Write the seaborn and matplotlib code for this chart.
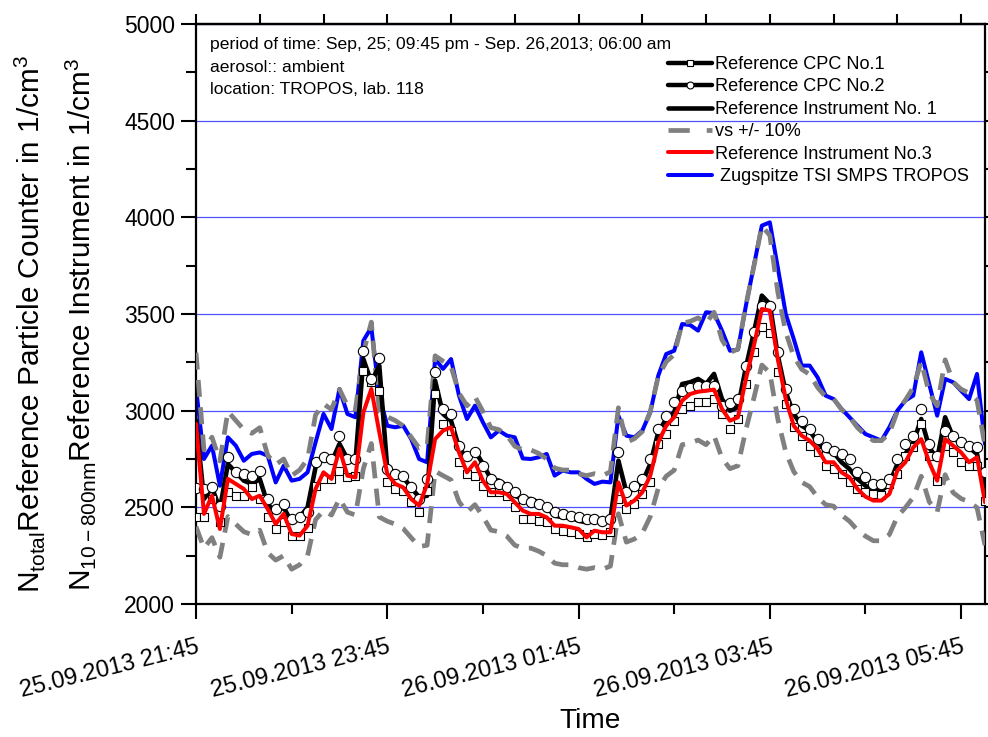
import numpy as np
import pandas as pd
import matplotlib
matplotlib.use("Agg")
import matplotlib.pyplot as plt
import matplotlib.dates as mdates
from matplotlib.ticker import MultipleLocator, FixedLocator, NullFormatter
from matplotlib.lines import Line2D
from matplotlib import font_manager as fm
import seaborn as sns

# ---------------- data (5-min samples, 25.09.2013 21:45 -> 26.09.2013 06:00) ----------------
t_start = "2013-09-25 21:45"
t_end = "2013-09-26 06:00"

ref_cpc1 = [2450, 2448, 2543, 2426, 2578, 2560, 2560, 2603, 2543, 2448, 2388, 2422, 2350, 2350, 2391, 2612, 2647,
            2647, 2690, 2655, 2664, 3207, 3147, 3100, 2629, 2595, 2586, 2526, 2474, 2586, 3086, 2931, 2897, 2733,
            2672, 2664, 2612, 2581, 2578, 2560, 2500, 2440, 2440, 2431, 2422, 2388, 2379, 2371, 2362, 2345, 2362,
            2357, 2371, 2543, 2491, 2517, 2569, 2629, 2828, 2879, 2948, 3009, 3022, 3043, 3043, 3060, 2983, 2905,
            2957, 3138, 3302, 3431, 3400, 3198, 3035, 2914, 2871, 2819, 2784, 2716, 2698, 2672, 2629, 2595,
            2581, 2569, 2564, 2621, 2672, 2767, 2810, 2931, 2767, 2638, 2819, 2784, 2733, 2716, 2716, 2535]

ref_cpc2 = [2600, 2595, 2603, 2509, 2759, 2681, 2672, 2664, 2690, 2543, 2491, 2517, 2440, 2448, 2474, 2733, 2759,
            2750, 2871, 2750, 2750, 3310, 3164, 3271, 2698, 2672, 2664, 2603, 2543, 2647, 3198, 3009, 2983, 2819,
            2767, 2785, 2716, 2647, 2621, 2603, 2578, 2543, 2526, 2517, 2500, 2474, 2466, 2457, 2448, 2440, 2440,
            2431, 2440, 2784, 2578, 2612, 2647, 2750, 2905, 2974, 3043, 3103, 3116, 3129, 3129, 3129, 3026, 3040,
            3060, 3233, 3405, 3543, 3543, 3302, 3112, 3009, 2948, 2905, 2853, 2810, 2793, 2776, 2750, 2681,
            2655, 2621, 2621, 2647, 2750, 2828, 2871, 3009, 2828, 2767, 2897, 2871, 2836, 2819, 2810, 2681]

ref_instr1 = [2950, 2543, 2603, 2491, 2724, 2681, 2638, 2621, 2647, 2517, 2474, 2500, 2422, 2448, 2500, 2707, 2759,
              2733, 2828, 2750, 2733, 3267, 3147, 3233, 2698, 2681, 2655, 2603, 2552, 2560, 3155, 2983, 2948, 2810,
              2750, 2793, 2724, 2647, 2638, 2612, 2560, 2543, 2543, 2526, 2500, 2457, 2448, 2448, 2431, 2422, 2431,
              2422, 2440, 2741, 2578, 2595, 2629, 2724, 2888, 2957, 2991, 3138, 3147, 3164, 3138, 3190, 3060, 3000,
              3017, 3224, 3405, 3595, 3552, 3285, 3095, 2983, 2922, 2897, 2836, 2793, 2784, 2733, 2698, 2647,
              2612, 2586, 2586, 2621, 2724, 2776, 2836, 2957, 2810, 2750, 2966, 2862, 2828, 2810, 2776, 2560]

band_upper = [3300, 2797, 2863, 2740, 2996, 2949, 2902, 2883, 2912, 2769, 2721, 2750, 2664, 2693, 2750, 2978, 3035,
              3006, 3111, 3025, 3006, 3300, 3458, 2994, 2968, 2949, 2921, 2863, 2807, 2816, 3284, 3256, 3229, 3091,
              3025, 3072, 2996, 2912, 2902, 2873, 2816, 2797, 2797, 2779, 2750, 2703, 2693, 2693, 2674, 2664, 2674,
              2664, 2684, 3015, 2836, 2855, 2892, 2996, 3177, 3253, 3290, 3452, 3462, 3480, 3452, 3509, 3366, 3300,
              3319, 3546, 3746, 3955, 3907, 3614, 3405, 3281, 3214, 3187, 3120, 3072, 3062, 3006, 2968, 2912,
              2873, 2845, 2845, 2883, 2996, 3054, 3120, 3253, 3091, 3025, 3263, 3148, 3111, 3091, 3054, 2816]

band_lower = [2400, 2289, 2343, 2242, 2452, 2413, 2374, 2359, 2382, 2265, 2227, 2250, 2180, 2203, 2250, 2436, 2483,
              2460, 2545, 2475, 2460, 2700, 2830, 2450, 2428, 2413, 2390, 2343, 2297, 2304, 2687, 2664, 2642, 2529,
              2475, 2514, 2452, 2382, 2374, 2351, 2304, 2289, 2289, 2273, 2250, 2211, 2203, 2203, 2188, 2180, 2188,
              2180, 2196, 2467, 2320, 2336, 2366, 2452, 2599, 2661, 2692, 2824, 2832, 2848, 2824, 2871, 2754, 2700,
              2715, 2902, 3065, 3236, 3197, 2957, 2786, 2685, 2630, 2607, 2552, 2514, 2506, 2460, 2428, 2382,
              2351, 2327, 2327, 2359, 2452, 2498, 2552, 2661, 2529, 2475, 2669, 2576, 2545, 2529, 2498, 2304]

ref_instr3 = [2931, 2466, 2560, 2388, 2647, 2621, 2595, 2543, 2560, 2491, 2414, 2466, 2362, 2354, 2405, 2595, 2681,
              2647, 2802, 2664, 2655, 2991, 3112, 2888, 2672, 2621, 2603, 2543, 2509, 2620, 2853, 2897, 2914, 2784,
              2681, 2733, 2638, 2578, 2578, 2569, 2526, 2483, 2466, 2466, 2448, 2405, 2405, 2397, 2388, 2345, 2379,
              2371, 2371, 2629, 2509, 2535, 2578, 2664, 2836, 2922, 2966, 3052, 3086, 3098, 3103, 3109, 3009, 2948,
              2966, 3164, 3336, 3526, 3517, 3267, 3060, 2922, 2871, 2845, 2802, 2733, 2733, 2681, 2655, 2595,
              2555, 2535, 2535, 2569, 2690, 2733, 2810, 2853, 2733, 2638, 2853, 2819, 2784, 2733, 2759, 2526]

zugspitze = [3121, 2750, 2819, 2612, 2862, 2819, 2741, 2776, 2784, 2767, 2629, 2715, 2638, 2647, 2681, 2836, 2983,
             2905, 3112, 2983, 2966, 3362, 3431, 3078, 2922, 2914, 2922, 2853, 2750, 2733, 3267, 3216, 3267, 3078,
             2957, 3026, 2940, 2862, 2897, 2871, 2862, 2753, 2750, 2759, 2776, 2664, 2690, 2681, 2681, 2647, 2621,
             2633, 2629, 2974, 2871, 2862, 2897, 2991, 3181, 3293, 3310, 3448, 3443, 3414, 3509, 3505, 3414, 3310,
             3316, 3543, 3750, 3957, 3974, 3741, 3500, 3371, 3233, 3233, 3172, 3078, 3060, 3009, 2966, 2922,
             2879, 2862, 2845, 2914, 3000, 3052, 3078, 3302, 3138, 2974, 3164, 3147, 3103, 3060, 3190, 2828]

series_labels = ["Reference CPC No.1", "Reference CPC No.2", "Reference Instrument No. 1",
                 "vs +/- 10%", "Reference Instrument No.3", " Zugspitze TSI SMPS TROPOS"]
xtick_labels = ["25.09.2013 21:45", "25.09.2013 23:45", "26.09.2013 01:45",
                "26.09.2013 03:45", "26.09.2013 05:45"]
info_lines = ["period of time: Sep, 25; 09:45 pm - Sep. 26,2013; 06:00 am",
              "aerosol:: ambient",
              "location: TROPOS, lab. 118"]
ylabel_1 = r"N$_{\mathregular{total}}$Reference Particle Counter in 1/cm$^{\mathregular{3}}$"
ylabel_2 = r"N$_{\mathregular{10-800nm}}$Reference Instrument in 1/cm$^{\mathregular{3}}$"
xlabel = "Time"

times = pd.date_range(t_start, periods=len(ref_instr1), freq="5min")
df = pd.DataFrame({"time": times, "cpc1": ref_cpc1, "cpc2": ref_cpc2, "ref1": ref_instr1,
                   "upper": band_upper, "lower": band_lower, "ref3": ref_instr3, "zug": zugspitze})

# ---------------- style ----------------
sns.set_style("ticks")
avail = {f.name for f in fm.fontManager.ttflist}
if "Liberation Sans Narrow" in avail:
    NARROW, K = "Liberation Sans Narrow", 1.0
else:
    NARROW, K = "Liberation Sans", 0.84
plt.rcParams["font.family"] = ["Liberation Sans", "DejaVu Sans"]
plt.rcParams["mathtext.fontset"] = "dejavusans"
for key in ["text.color", "axes.labelcolor", "xtick.color", "ytick.color", "axes.edgecolor"]:
    plt.rcParams[key] = "black"

W, H = 988, 737
fig = plt.figure(figsize=(W / 100, H / 100), dpi=100)
ax = fig.add_axes([196 / W, 1 - 604 / H, (985 - 196) / W, (604 - 24) / H])

BLUE = "#0000ff"
RED = "#ff0000"
GRAY = "#808080"
DASH = (0, (3.6, 2.2))

sns.lineplot(data=df, x="time", y="zug", color=BLUE, lw=2.9, ax=ax, zorder=2, estimator=None)
sns.lineplot(data=df, x="time", y="upper", color=GRAY, lw=3.4, ax=ax, zorder=3, estimator=None, linestyle=DASH)
sns.lineplot(data=df, x="time", y="lower", color=GRAY, lw=3.4, ax=ax, zorder=3, estimator=None, linestyle=DASH)
sns.lineplot(data=df, x="time", y="ref1", color="black", lw=3.3, ax=ax, zorder=4, estimator=None)
sns.scatterplot(data=df, x="time", y="cpc1", marker="s", s=38, color="white", edgecolor="black",
                linewidth=0.8, ax=ax, zorder=5)
sns.scatterplot(data=df, x="time", y="cpc2", marker="o", s=55, color="white", edgecolor="black",
                linewidth=0.8, ax=ax, zorder=5)
sns.lineplot(data=df, x="time", y="ref3", color=RED, lw=2.9, ax=ax, zorder=6, estimator=None)

ax.set_xlim(pd.Timestamp(t_start), pd.Timestamp(t_end))
ax.set_ylim(2000, 5000)

# grid
ax.yaxis.grid(True, color="#5050ff", lw=0.9)
ax.xaxis.grid(False)
ax.set_axisbelow(True)

# ticks
xt = pd.to_datetime(xtick_labels, format="%d.%m.%Y %H:%M")
ax.set_xticks(mdates.date2num(xt))
ax.set_xticklabels(xtick_labels, rotation=14, ha="right", va="top", rotation_mode="anchor",
                   fontfamily=NARROW, fontsize=20.3 * K, color="black")
ax.xaxis.set_minor_locator(FixedLocator(mdates.date2num(pd.date_range(t_start, "2013-09-26 05:45", freq="1h"))))
ax.yaxis.set_major_locator(MultipleLocator(500))
ax.yaxis.set_minor_locator(MultipleLocator(250))
ax.tick_params(axis="both", which="major", direction="out", length=11, width=1.5, color="black")
ax.tick_params(axis="both", which="minor", direction="out", length=7, width=1.5, color="black")
ax.tick_params(axis="x", which="major", pad=12)
ax.tick_params(axis="y", which="both", right=True, labelright=False)
ax.tick_params(axis="y", which="major", labelsize=16.5, pad=4, labelcolor="black")
for lab in ax.get_yticklabels():
    lab.set_fontfamily("Liberation Sans")

top = ax.secondary_xaxis("top")
top.set_xticks(mdates.date2num(pd.date_range(t_start, t_end, freq="40min")))
top.xaxis.set_major_formatter(NullFormatter())
top.tick_params(direction="out", length=7, width=1.5, color="black")
top.spines["top"].set_linewidth(1.6)

for sp in ax.spines.values():
    sp.set_linewidth(1.6)
    sp.set_color("black")
    sp.set_visible(True)

# labels
ax.set_xlabel(xlabel, fontfamily=NARROW, fontsize=24 * K, color="black")
ax.xaxis.label.set_va("center")
ax.xaxis.set_label_coords((590 - 196) / (985 - 196), (604 - 721) / (604 - 24))
ax.set_ylabel("")
fig.text(30 / W, 1 - 324 / H, ylabel_1, rotation=90, ha="center", va="center",
         fontfamily=NARROW, fontsize=25.5 * K, color="black")
fig.text(80 / W, 1 - 325 / H, ylabel_2, rotation=90, ha="center", va="center",
         fontfamily=NARROW, fontsize=25.5 * K, color="black")

# info text
for line, yc in zip(info_lines, [45, 67, 89]):
    fig.text(210 / W, 1 - yc / H, line, ha="left", va="center", fontfamily=NARROW,
             fontsize=15 * K, color="black")

# legend
handles = [
    Line2D([], [], color="black", lw=3.2, marker="s", ms=5, mfc="white", mec="black", mew=0.8),
    Line2D([], [], color="black", lw=3.2, marker="o", ms=5, mfc="white", mec="black", mew=0.8),
    Line2D([], [], color="black", lw=3.3),
    Line2D([], [], color=GRAY, lw=3.4, linestyle=(0, (4.5, 3.6))),
    Line2D([], [], color=RED, lw=2.9),
    Line2D([], [], color=BLUE, lw=2.9),
]
fsz = 15.5 * K
leg = ax.legend(handles, series_labels, loc="upper left", bbox_to_anchor=(668 / W, 1 - 56 / H),
                bbox_transform=fig.transFigure, frameon=False, borderpad=0, borderaxespad=0,
                handlelength=44 / (fsz * 100 / 72), handletextpad=0.15, labelspacing=0.30,
                prop={"family": NARROW, "size": fsz})
for txt in leg.get_texts():
    txt.set_color("black")

fig.savefig("out.png", dpi=100)
